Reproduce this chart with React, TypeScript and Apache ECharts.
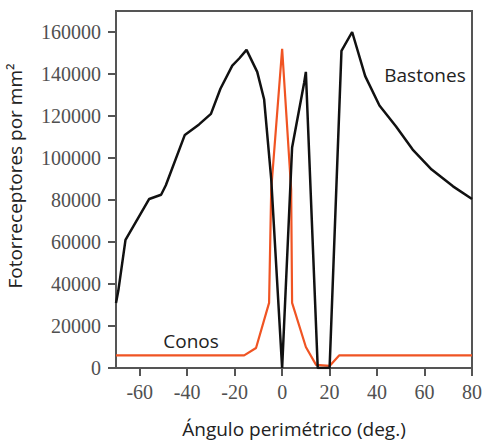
import React, { useEffect, useRef } from "react";
import * as echarts from "echarts";

const rodAngles = [-70, -69, -66, -56, -51, -49, -41, -35, -30, -26, -21, -18, -15, -10.5, -7.6, -4.6, 0, 4.2, 9.3, 10, 15, 20, 25, 29.5, 35, 41, 48, 55, 63, 72, 80];
const rodDensity = [31000, 37000, 61000, 80500, 82500, 87000, 111000, 116000, 121000, 133000, 144000, 147500, 151500, 141000, 128000, 90000, 0, 105000, 136000, 141000, 0, 0, 151000, 160000, 139000, 125000, 115000, 104000, 94500, 86500, 80500];

const coneAngles = [-70, -16, -11, -5.5, -4.6, 0, 3.8, 4.2, 10, 14.3, 20, 24, 80];
const coneDensity = [6000, 6000, 9500, 31000, 85000, 152000, 85000, 31000, 10000, 1500, 1000, 6000, 6000];

const xTicks = [-60, -40, -20, 0, 20, 40, 60, 80];
const yTicks = [0, 20000, 40000, 60000, 80000, 100000, 120000, 140000, 160000];

const xName = "Ángulo perimétrico (deg.)";
const yName = "Fotorreceptores por mm²";
const rodLabel = "Bastones";
const coneLabel = "Conos";

export default function App() {
  const ref = useRef<HTMLDivElement>(null);
  useEffect(() => {
    if (!ref.current) return;
    const chart = echarts.init(ref.current, null, { renderer: "svg" });
    const serif = "Liberation Serif";
    const sans = "Open Sans";
    const fmt = (v: number) => String(v);
    const labelStyle = {
      fontFamily: serif,
      fontSize: 20,
      color: "#505050",
      formatter: fmt,
    };
    chart.setOption({
      animation: false,
      grid: {
        left: 116,
        right: 13,
        top: 11,
        bottom: 77,
        show: true,
        borderColor: "#555",
        borderWidth: 2,
        backgroundColor: "transparent",
      },
      xAxis: {
        type: "value",
        min: -70,
        max: 80,
        name: xName,
        nameLocation: "middle",
        nameGap: 51,
        nameTextStyle: { fontFamily: sans, fontSize: 19, color: "#222" },
        axisLine: { show: true, onZero: false, lineStyle: { color: "#555", width: 2 } },
        axisTick: { show: true, length: 8, lineStyle: { color: "#555", width: 2 }, customValues: xTicks },
        axisLabel: { ...labelStyle, margin: 14, customValues: xTicks },
        splitLine: { show: false },
      },
      yAxis: {
        type: "value",
        min: 0,
        max: 170000,
        axisLine: { show: true, onZero: false, lineStyle: { color: "#555", width: 2 } },
        axisTick: { show: true, length: 8, lineStyle: { color: "#555", width: 2 }, customValues: yTicks },
        axisLabel: { ...labelStyle, margin: 15, customValues: yTicks },
        splitLine: { show: false },
      },
      graphic: [
        {
          type: "text",
          x: 15,
          y: 176,
          rotation: Math.PI / 2,
          style: {
            text: yName,
            fontFamily: sans,
            fontSize: 19,
            fill: "#222",
            align: "center",
            verticalAlign: "middle",
          },
        },
        {
          type: "text",
          x: 425,
          y: 75,
          style: {
            text: rodLabel,
            fontFamily: sans,
            fontSize: 19,
            fill: "#222",
            align: "center",
            verticalAlign: "middle",
          },
        },
        {
          type: "text",
          x: 191,
          y: 341,
          style: {
            text: coneLabel,
            fontFamily: sans,
            fontSize: 19,
            fill: "#222",
            align: "center",
            verticalAlign: "middle",
          },
        },
      ],
      series: [
        {
          name: coneLabel,
          type: "line",
          data: coneAngles.map((a, i) => [a, coneDensity[i]]),
          showSymbol: false,
          lineStyle: { color: "#f05423", width: 2.2 },
          z: 2,
        },
        {
          name: rodLabel,
          type: "line",
          data: rodAngles.map((a, i) => [a, rodDensity[i]]),
          showSymbol: false,
          lineStyle: { color: "#111", width: 2.5 },
          z: 3,
        },
      ],
    });
    return () => chart.dispose();
  }, []);
  return <div ref={ref} style={{ width: 485, height: 445, position: "absolute", left: 0, top: 0 }} />;
}
